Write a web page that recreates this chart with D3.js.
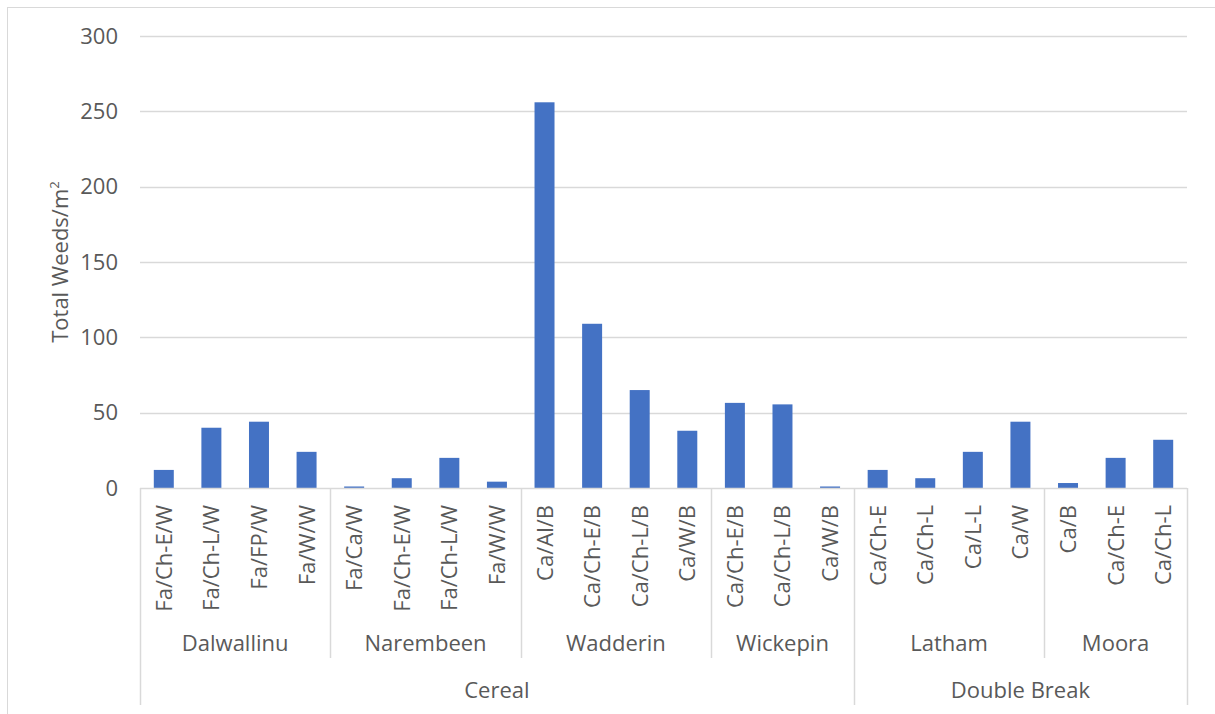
<!DOCTYPE html>
<html>
<head>
<meta charset="utf-8">
<script src="https://cdn.jsdelivr.net/npm/d3@7"></script>
<style>
  html, body { margin: 0; padding: 0; background: #fff; }
  svg { display: block; }
  text { font-family: "Open Sans", sans-serif; fill: #595959; }
</style>
</head>
<body>
<script>
// ---- data ----
const categories = [
  "Fa/Ch-E/W", "Fa/Ch-L/W", "Fa/FP/W", "Fa/W/W",
  "Fa/Ca/W", "Fa/Ch-E/W", "Fa/Ch-L/W", "Fa/W/W",
  "Ca/Al/B", "Ca/Ch-E/B", "Ca/Ch-L/B", "Ca/W/B",
  "Ca/Ch-E/B", "Ca/Ch-L/B", "Ca/W/B",
  "Ca/Ch-E", "Ca/Ch-L", "Ca/L-L", "Ca/W",
  "Ca/B", "Ca/Ch-E", "Ca/Ch-L"
];
const values = [
  12, 40, 44, 24,
  1, 6.5, 20, 4.2,
  256, 109, 65, 38,
  56.5, 55.5, 1,
  12, 6.5, 24, 44,
  3.3, 20, 32
];
const locations = ["Dalwallinu", "Narembeen", "Wadderin", "Wickepin", "Latham", "Moora"];
const locationSizes = [4, 4, 4, 3, 4, 3];
const groups = ["Cereal", "Double Break"];
const groupLocationCounts = [4, 2];
const yTicks = [0, 50, 100, 150, 200, 250, 300];
const yTitle = "Total Weeds/m";

// ---- layout ----
const W = 1215, H = 714;
const pLeft = 140, pRight = 1187, pTop = 36, pBottom = 488;
const fs = 22;

const svg = d3.select("body").append("svg").attr("width", W).attr("height", H);

// chart border
svg.append("rect").attr("x", 7.5).attr("y", 7.5).attr("width", W).attr("height", H)
  .attr("fill", "none").attr("stroke", "#d9d9d9").attr("stroke-width", 1);

const x = d3.scaleBand().domain(d3.range(categories.length)).range([pLeft, pRight]).paddingInner(0.58).paddingOuter(0.29);
const xc = d3.scaleBand().domain(d3.range(categories.length)).range([pLeft, pRight]);
const y = d3.scaleLinear().domain([0, 300]).range([pBottom, pTop]);

// gridlines
svg.append("g").selectAll("line").data(yTicks.filter(t => t > 0)).join("line")
  .attr("x1", pLeft).attr("x2", pRight)
  .attr("y1", d => Math.round(y(d)) + 0.5).attr("y2", d => Math.round(y(d)) + 0.5)
  .attr("stroke", "#d9d9d9").attr("stroke-width", 1.5);

// y axis labels
const yAxis = d3.axisLeft(y).tickValues(yTicks).tickSize(0).tickPadding(0);
const ya = svg.append("g").attr("transform", `translate(118,0)`).call(yAxis);
ya.select(".domain").remove();
ya.selectAll("text").attr("font-size", fs).attr("font-family", "Open Sans, sans-serif").attr("fill", "#595959");

// y title
const yt = svg.append("text").attr("transform", `translate(68,${(pTop + pBottom) / 2}) rotate(-90)`)
  .attr("text-anchor", "middle").attr("font-size", fs);
yt.append("tspan").text(yTitle);
yt.append("tspan").attr("font-size", fs * 0.6).attr("dy", -9).text("2");

// bars
svg.append("g").selectAll("rect").data(values).join("rect")
  .attr("x", (d, i) => x(i)).attr("width", x.bandwidth())
  .attr("y", d => y(d)).attr("height", d => y(0) - y(d))
  .attr("fill", "#4472C4");

// baseline
svg.append("line").attr("x1", pLeft).attr("x2", pRight).attr("y1", pBottom + 0.5).attr("y2", pBottom + 0.5)
  .attr("stroke", "#d9d9d9").attr("stroke-width", 1.5);

// category labels
svg.append("g").selectAll("text").data(categories).join("text")
  .attr("transform", (d, i) => `translate(${xc(i) + xc.bandwidth() / 2 + 8},505) rotate(-90)`)
  .attr("text-anchor", "end").attr("font-size", fs).text(d => d);

// location level
const locStart = [];
let acc = 0;
locationSizes.forEach(s => { locStart.push(acc); acc += s; });
const locLevelBottom = 658, groupLevelBottom = 705;
const g2 = svg.append("g");
locations.forEach((name, k) => {
  const x0 = xc(locStart[k]);
  const x1 = locStart[k] + locationSizes[k] < categories.length ? xc(locStart[k] + locationSizes[k]) : pRight;
  g2.append("text").attr("x", (x0 + x1) / 2).attr("y", 651).attr("text-anchor", "middle")
    .attr("font-size", fs).text(name);
});
// group level
const grpStartLoc = [];
acc = 0;
groupLocationCounts.forEach(c => { grpStartLoc.push(acc); acc += c; });
const grpBoundaries = [];
groups.forEach((name, k) => {
  const si = locStart[grpStartLoc[k]];
  const ei = grpStartLoc[k] + groupLocationCounts[k] < locations.length ? locStart[grpStartLoc[k] + groupLocationCounts[k]] : categories.length;
  const x0 = xc(si);
  const x1 = ei < categories.length ? xc(ei) : pRight;
  grpBoundaries.push(x0);
  g2.append("text").attr("x", (x0 + x1) / 2).attr("y", 698).attr("text-anchor", "middle")
    .attr("font-size", fs).text(name);
});
grpBoundaries.push(pRight);
// separator lines
const locBoundaries = locStart.map(s => xc(s)).concat([pRight]);
locBoundaries.forEach(bx => {
  const isGroup = grpBoundaries.some(g => Math.abs(g - bx) < 0.5);
  g2.append("line").attr("x1", Math.round(bx) + 0.5).attr("x2", Math.round(bx) + 0.5)
    .attr("y1", pBottom).attr("y2", isGroup ? groupLevelBottom : locLevelBottom)
    .attr("stroke", "#d9d9d9").attr("stroke-width", 1.5);
});
</script>
</body>
</html>
